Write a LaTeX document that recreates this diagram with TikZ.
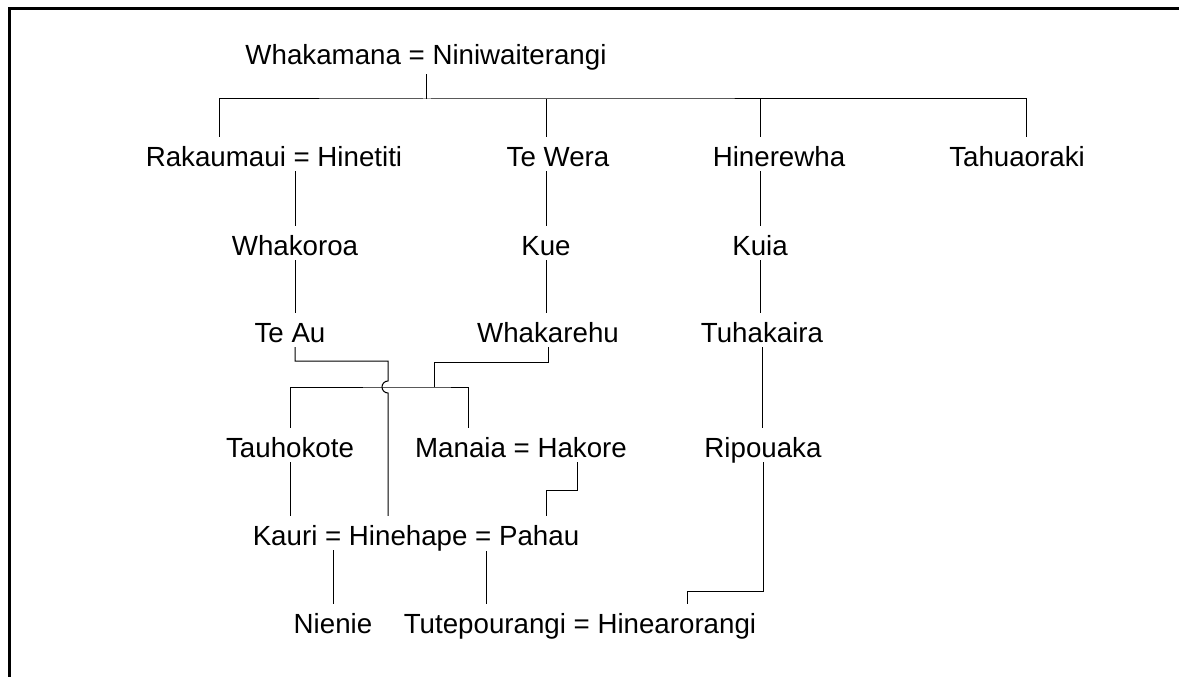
\documentclass[tikz,border=0pt]{standalone}
\usepackage{fontspec}
\setmainfont{Liberation Sans}
\usetikzlibrary{calc}
\usetikzlibrary{positioning}
\tikzset{
  person/.style = {anchor=base, inner sep=0pt, text height=29pt, text depth=5pt,
    font=\fontsize{27.7}{33}\selectfont},
  link/.style = {line width=1pt},
  frame/.style = {line width=3pt}
}

\begin{document}
\begin{tikzpicture}[x=1pt,y=-1pt]
  \useasboundingbox (0,0) rectangle (1179,677);
  \draw[frame] (1179,9) -- (9,9) -- (9,677);

  \node[person] (wn) at (426,65) {Whakamana = Niniwaiterangi};
  \node[person] (rak) at (274,166) {Rakaumaui = Hinetiti};
  \node[person] (tew) at (558,166) {Te Wera};
  \node[person] (hin) at (779,166) {Hinerewha};
  \node[person] (tah) at (1017,166) {Tahuaoraki};
  \node[person] (whr) at (295,255) {Whakoroa};
  \node[person] (kue) at (546,255) {Kue};
  \node[person] (kuia) at (760,255) {Kuia};
  \node[person] (teau) at (290,342) {Te Au};
  \node[person] (whk) at (548,342) {Whakarehu};
  \node[person] (tuh) at (762,342) {Tuhakaira};
  \node[person] (tau) at (290,457) {Tauhokote};
  \node[person] (man) at (521,457) {Manaia = Hakore};
  \node[person] (rip) at (763,457) {Ripouaka};
  \node[person] (kh) at (416,545) {Kauri = Hinehape = Pahau};
  \node[person] (nie) at (333,633) {Nienie};
  \node[person] (tut) at (580,633) {Tutepourangi = Hinearorangi};

  \coordinate (tb) at (425,99);
  \coordinate (jn) at (434,387);
  \coordinate (hop) at (388,381);

  \begin{scope}[link]
    \draw ([yshift=-4]wn.south) -- (wn |- tb);
    \draw ([xshift=-55]rak.north) |- (tb) -| ([xshift=9]tah.north);
    \draw (kue |- tew.north) -- (kue |- tb);
    \draw (kuia |- hin.north) -- (kuia |- tb);

    \draw (rak.south -| whr) -- (whr);
    \draw (whr) -- (whr |- teau.north);
    \draw (kue) -- (kue |- tew.south);
    \draw (kue) -- (kue |- whk.north);
    \draw (kuia) -- (kuia |- hin.south);
    \draw (kuia) -- (kuia |- tuh.north);
    \draw (tuh) -- (tuh |- rip.north);

    \draw ([xshift=5]teau.south) -- ++(0,14) -| (hop)
      arc[start angle=270, end angle=90, radius=6] -- (hop |- kh.north);
    \draw (whk.south) -- ++(0,15) -| (jn);
    \draw (tau) |- (jn) -| ([xshift=-53]man.north);
    \draw (tau) -- (tau |- kh.north);
    \draw ([xshift=56]man.south) -- ++(0,28) -| ([xshift=130]kh.north);

    \draw (nie) -- (nie |- kh.south);
    \draw ([xshift=-94]tut.north) -- ++(0,-53);
    \draw (rip.south) -- ++(0,129) -| ([xshift=107]tut.north);
  \end{scope}
\end{tikzpicture}
\end{document}
